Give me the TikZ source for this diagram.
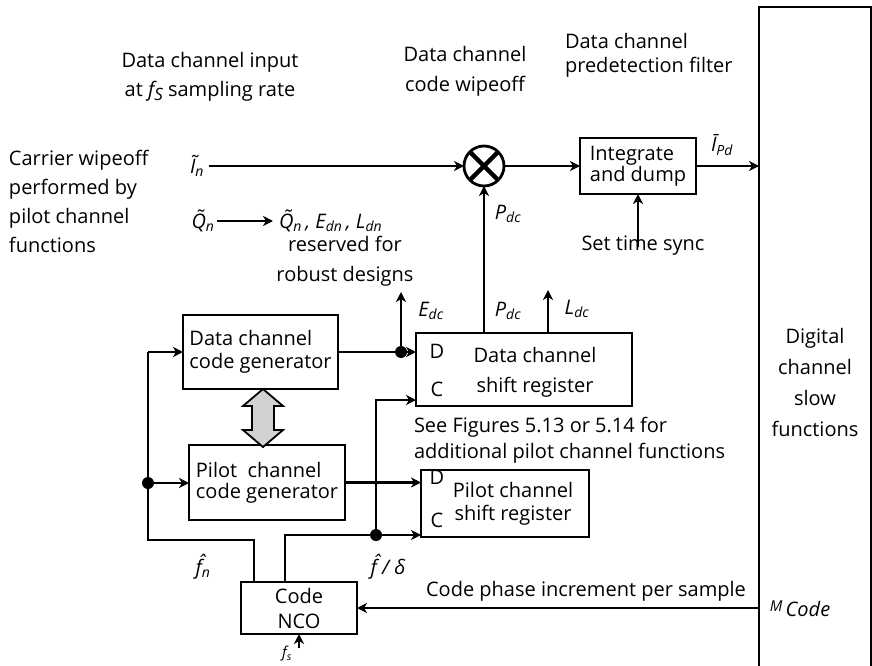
\documentclass[tikz,border=0pt]{standalone}
\usepackage{fontspec}
\setmainfont{Open Sans}
\usetikzlibrary{arrows.meta,calc}
\newcommand\sbs[1]{\textsubscript{\itshape #1}}
\begin{document}
\begin{tikzpicture}[x=1pt,y=-1pt, line width=2.8pt,
  >={Stealth[length=10pt,width=10pt,inset=3pt]},
  every node/.style={font=\fontsize{20}{29}\selectfont, inner sep=0pt, outer sep=0pt},
  blk/.style={draw, rectangle, line width=2.8pt},
  lbl/.style={align=center},
  dot/.style={circle, fill, minimum size=12pt, inner sep=0pt}]
\useasboundingbox (0,0) rectangle (872,666);

% right big box
\node[blk, anchor=north west, minimum width=112, minimum height=700] (rbox) at (759,7) {};
\node[lbl, font=\fontsize{20}{31}\selectfont] (rtxt) at (815,382) {Digital\\channel\\slow\\functions};

% blocks
\node[blk, minimum width=155, minimum height=74, align=left, font=\fontsize{20}{23}\selectfont] (dgen) at (260.5,352) {Data channel\\code generator};
\node[blk, minimum width=156, minimum height=75, align=left, font=\fontsize{20}{21}\selectfont] (pgen) at (267,482.5) {Pilot\ \ channel\\code generator};
\node[blk, minimum width=216, minimum height=73] (dsr) at (524,369.5) {};
\node[lbl, font=\fontsize{20}{30}\selectfont] (dsrt) at (535,372) {Data channel\\shift register};
\node (dsrD) at (437,351) {D};
\node (dsrC) at (437,389) {C};
\node[blk, minimum width=168, minimum height=67] (psr) at (505,503.5) {};
\node[lbl, font=\fontsize{20}{23}\selectfont] (psrt) at (513,503.5) {Pilot channel\\shift register};
\node (psrD) at (437,477) {D};
\node (psrC) at (437,520) {C};
\node[blk, minimum width=116, minimum height=52, align=center, font=\fontsize{20}{25}\selectfont] (nco) at (299,608) {Code\\NCO};
\node[blk, minimum width=116, minimum height=56, align=left, font=\fontsize{20}{19}\selectfont] (intd) at (638,166) {Integrate\\and dump};
\node[draw, circle, minimum size=40pt, line width=2.8pt] (mult) at (484,166) {};
\draw[line width=4.5pt] (mult.north west) -- (mult.south east) (mult.north east) -- (mult.south west);

% top texts
\node[lbl] (t1) at (210,77) {Data channel input\\at {\itshape f}\raisebox{-4pt}{\itshape\fontsize{17}{17}\selectfont S} sampling rate};
\node[lbl, font=\fontsize{20}{30}\selectfont] (t2) at (465,71) {Data channel\\code wipeoff};
\node[align=left, anchor=west, font=\fontsize{20}{24}\selectfont] (t3) at (565,55) {Data channel\\predetection filter};
\node[align=left, anchor=west] (t4) at (9,201) {Carrier wipeoff\\performed by\\pilot channel\\functions};

% inputs
\node (In) at (197,166) {\itshape Ĩ\sbs{n}};
\draw[->] ([xshift=5pt]In.east) -- (mult.west);
\draw[->] (mult.east) -- (intd.west);
\node (Qn) at (203,221) {\itshape \~{Q}\sbs{n}};
\node[anchor=west] (Qlist) at (279,221) {\itshape \~{Q}\sbs{n}\,, E\sbs{dn}\,, L\sbs{dn}};
\draw[->] ([xshift=3pt]Qn.east) -- ([xshift=-6pt]Qlist.west);
\node[lbl, font=\fontsize{20}{30}\selectfont] (resv) at (345,261) {reserved for\\robust designs};

% integrate and dump
\node (Ipd) at (722,145) {\itshape \={I}\sbs{Pd}};
\draw[->] (intd.east) -- (intd.east -| rbox.west);
\node (sts) at (643,246) {Set time sync};
\draw[->] ([yshift=-11pt]sts.north -| intd.south) -- (intd.south);

% Pdc to multiplier
\draw[->] (dsr.north -| mult.south) -- (mult.south);
\node (Pdc1) at (508,214) {\itshape P\sbs{dc}};
\node (Pdc2) at (508,311) {\itshape P\sbs{dc}};
\coordinate (Ltip) at (548,290);
\draw[->] (dsr.north -| Ltip) -- (Ltip);
\node (Ldc) at (577,309) {\itshape L\sbs{dc}};
\coordinate (dotE) at (401,352);
\coordinate (Etip) at (401,292);
\draw[->] (dotE) -- (Etip);
\node (Edc) at (431,311) {\itshape E\sbs{dc}};

% generator to shift registers
\draw[->] (dgen.east) -- (dgen.east -| dsr.west);
\node[dot] at (dotE) {};
\draw[->] (pgen.east) -- (pgen.east -| psr.west);

% double arrow
\begin{scope}[shift={(263,389)}]
\draw[fill=gray!35, line width=1.8pt] (0,0) -- (20,17) -- (11,17) -- (11,41) -- (20,41) -- (0,58) -- (-20,41) -- (-11,41) -- (-11,17) -- (-20,17) -- cycle;
\end{scope}

% left bus
\coordinate (Ltop) at (148,352);
\coordinate (Ldot) at (148,483);
\coordinate (Lbot) at (148,540);
\draw[->] (Ltop) -- (dgen.west);
\draw (Ltop) -- (Lbot) -| ($(nco.north west)!0.112!(nco.north east)$);
\draw[->] (Ldot) -- (Ldot -| pgen.west);
\node[dot] at (Ldot) {};

% NCO output to shift register clocks
\coordinate (Rdot) at (376,535);
\draw ($(nco.north west)!0.38!(nco.north east)$) |- (Rdot);
\draw[->] (Rdot) -- (Rdot -| psr.west);
\draw[->] (Rdot) |- ($(dsr.south west)+(0,-6)$);
\node[dot] at (Rdot) {};
\node (fn) at (203,567) {\itshape \^{f}\sbs{n}};
\node (fd) at (388,567) {\itshape \^{f} / δ};

\node[align=left, anchor=west, font=\fontsize{20}{26}\selectfont] (see) at (414,440) {See Figures 5.13 or 5.14 for\\additional pilot channel functions};

% NCO inputs
\draw[->] (rbox.west |- nco.east) -- (nco.east);
\node (cpi) at (586,591) {Code phase increment per sample};
\node (mc) at (800,609) {\itshape{\fontsize{15}{15}\selectfont M}\,\raisebox{-5pt}{Code}};
\coordinate (fsb) at (299,648);
\draw[->] (fsb) -- (nco.south);
\node (fs) at (287,654) {\itshape\fontsize{15}{15}\selectfont f\sbs{s}};
\end{tikzpicture}
\end{document}
